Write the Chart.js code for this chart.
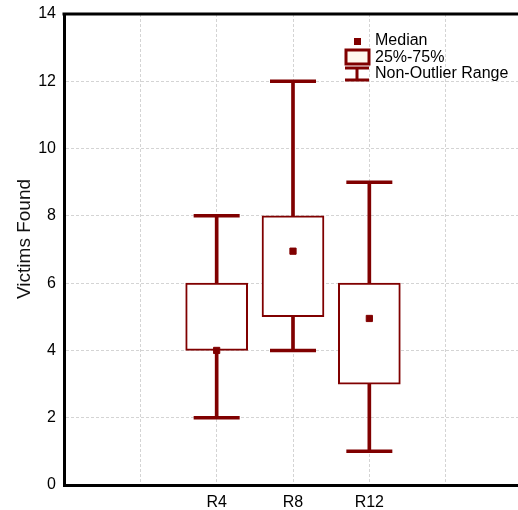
<!DOCTYPE html>
<html>
<head>
<meta charset="utf-8">
<script src="https://cdn.jsdelivr.net/npm/chart.js@4.4.0/dist/chart.umd.min.js"></script>
<style>
  html, body { margin: 0; padding: 0; background: #fff; overflow: hidden; }
  #wrap { width: 530px; height: 510px; }
</style>
</head>
<body>
<div id="wrap"><canvas id="boxChart" width="530" height="510"></canvas></div>
<script>
// box plot values
const labels = ['', '', 'R4', 'R8', 'R12', '', ''];
const whiskerLow = [null, null, 2, 4, 1, null, null];
const q1 = [null, null, 4, 5, 3, null, null];
const medians = [null, null, 4, 6.95, 4.95, null, null];
const q3 = [null, null, 6, 8, 6, null, null];
const whiskerHigh = [null, null, 8, 12, 9, null, null];
const yTicks = [0, 2, 4, 6, 8, 10, 12, 14];

const dark = '#800000';
const font = 'Arial, "Liberation Sans", sans-serif';

const boxes = q1.map((v, i) => v === null ? null : [v, q3[i]]);
const whiskers = whiskerLow.map((v, i) => v === null ? null : [v, whiskerHigh[i]]);

// frame on top of the plot + legend in the corner
const framePlugin = {
    id: 'frame',
    afterDraw(chart) {
        const { ctx, chartArea } = chart;
        ctx.save();
        ctx.strokeStyle = '#000';
        ctx.lineWidth = 3;
        ctx.beginPath();
        ctx.moveTo(chartArea.left - 1.5, chartArea.top);
        ctx.lineTo(chartArea.right, chartArea.top);
        ctx.stroke();

        const lx = chartArea.left + 293;
        const ly = chartArea.top;
        // median icon
        ctx.fillStyle = dark;
        ctx.fillRect(lx - 3, ly + 24, 7, 7);
        // box icon
        ctx.fillStyle = '#fff8ee';
        ctx.strokeStyle = dark;
        ctx.lineWidth = 3;
        ctx.fillRect(lx - 11, ly + 36, 23, 14);
        ctx.strokeRect(lx - 11, ly + 36, 23, 14);
        // whisker icon
        ctx.beginPath();
        ctx.moveTo(lx - 12, ly + 54); ctx.lineTo(lx + 12, ly + 54);
        ctx.moveTo(lx, ly + 54); ctx.lineTo(lx, ly + 66);
        ctx.moveTo(lx - 12, ly + 66); ctx.lineTo(lx + 12, ly + 66);
        ctx.stroke();

        ctx.fillStyle = '#000';
        ctx.font = '16px ' + font;
        ctx.textBaseline = 'middle';
        ctx.textAlign = 'left';
        ctx.fillText('Median', lx + 18, ly + 27);
        ctx.fillText('25%-75%', lx + 18, ly + 44);
        ctx.fillText('Non-Outlier Range', lx + 18, ly + 60);
        ctx.restore();
    }
};

new Chart(document.getElementById('boxChart'), {
    type: 'bar',
    data: {
        labels: labels,
        datasets: [
            {
                type: 'line',
                label: 'Median',
                data: medians,
                showLine: false,
                pointStyle: 'rect',
                pointRadius: 4.4,
                pointBackgroundColor: dark,
                pointBorderColor: dark,
                pointBorderWidth: 1
            },
            {
                type: 'line',
                label: 'Max',
                data: whiskerHigh,
                showLine: false,
                pointStyle: 'line',
                pointRadius: 23,
                pointBorderColor: dark,
                pointBorderWidth: 3.5
            },
            {
                type: 'line',
                label: 'Min',
                data: whiskerLow,
                showLine: false,
                pointStyle: 'line',
                pointRadius: 23,
                pointBorderColor: dark,
                pointBorderWidth: 3.5
            },
            {
                label: '25%-75%',
                data: boxes,
                grouped: false,
                barThickness: 62,
                backgroundColor: '#fff',
                borderColor: dark,
                borderWidth: 2,
                borderSkipped: false
            },
            {
                label: 'Non-Outlier Range',
                data: whiskers,
                grouped: false,
                barThickness: 3,
                backgroundColor: dark,
                borderWidth: 0
            }
        ]
    },
    options: {
        responsive: false,
        animation: false,
        layout: { autoPadding: false, padding: { top: 14, right: 6, left: 0, bottom: 0 } },
        plugins: {
            legend: { display: false },
            tooltip: { enabled: false }
        },
        scales: {
            x: {
                offset: false,
                grid: { offset: false, color: '#d4d4d4', drawTicks: false },
                border: { color: '#000', width: 3, dash: [3, 2] },
                ticks: {
                    color: '#000',
                    font: { family: font, size: 16 },
                    padding: 8,
                    maxRotation: 0,
                    autoSkip: false
                },
                afterFit(scale) { scale.height = 25; }
            },
            y: {
                min: 0,
                max: 14,
                afterBuildTicks(scale) { scale.ticks = yTicks.map(v => ({ value: v })); },
                grid: { color: '#d4d4d4', drawTicks: false },
                border: { color: '#000', width: 3, dash: [3, 2] },
                ticks: {
                    color: '#000',
                    font: { family: font, size: 16 },
                    padding: 8
                },
                title: {
                    display: true,
                    text: '    Victims Found',
                    color: '#111',
                    font: { family: font, size: 19 },
                    padding: { top: 13, bottom: 0 }
                },
                afterFit(scale) {
                    scale.width = 64;
                    scale.paddingTop = 0;
                    scale.paddingBottom = 0;
                }
            }
        }
    },
    plugins: [framePlugin]
});
</script>
</body>
</html>
